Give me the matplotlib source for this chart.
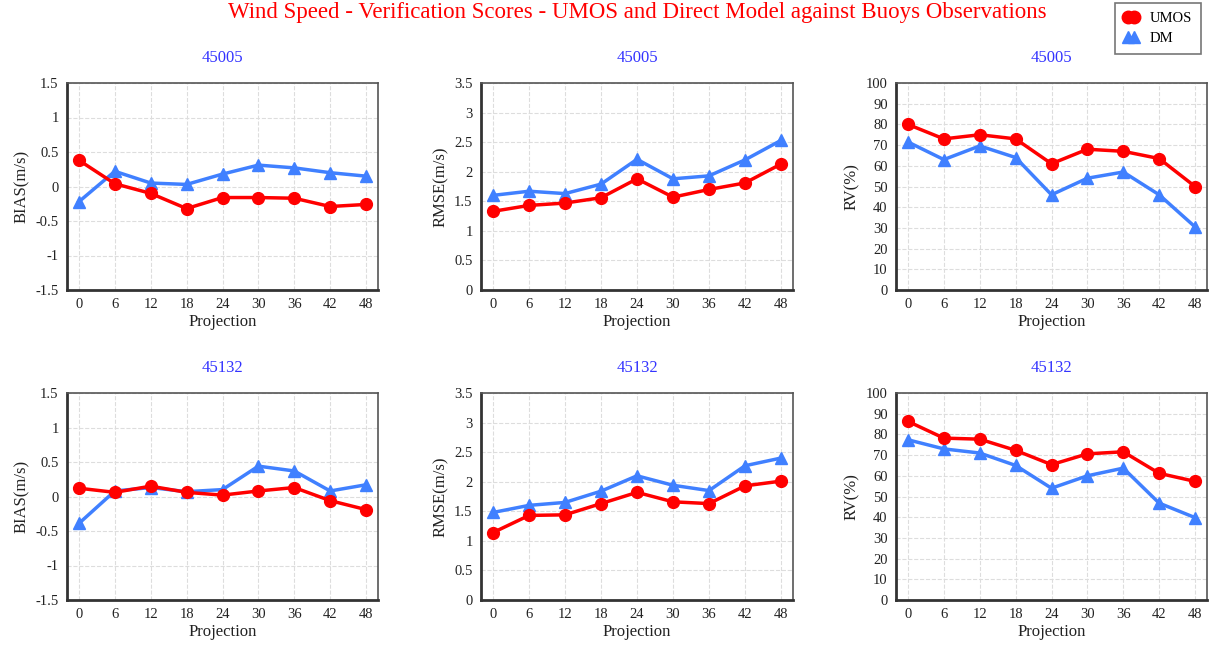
import matplotlib
matplotlib.use('Agg')
import matplotlib.pyplot as plt
from matplotlib.lines import Line2D

plt.rcParams['font.family'] = ['Liberation Serif', 'DejaVu Serif']

# projection hours
proj = [0, 6, 12, 18, 24, 30, 36, 42, 48]

# station 45005
bias_umos_45005 = [0.38, 0.04, -0.10, -0.32, -0.16, -0.16, -0.17, -0.29, -0.26]
bias_dm_45005 = [-0.22, 0.22, 0.05, 0.03, 0.18, 0.31, 0.27, 0.20, 0.15]
rmse_umos_45005 = [1.33, 1.43, 1.47, 1.56, 1.88, 1.57, 1.70, 1.81, 2.13]
rmse_dm_45005 = [1.60, 1.67, 1.63, 1.79, 2.21, 1.88, 1.93, 2.20, 2.53]
rv_umos_45005 = [80, 73, 75, 73, 61, 68, 67, 63.5, 50]
rv_dm_45005 = [71.5, 63, 69.6, 64, 46, 54, 57, 46, 30.5]

# station 45132
bias_umos_45132 = [0.12, 0.06, 0.15, 0.06, 0.02, 0.08, 0.13, -0.06, -0.19]
bias_dm_45132 = [-0.39, 0.08, 0.13, 0.07, 0.10, 0.44, 0.37, 0.08, 0.17]
rmse_umos_45132 = [1.14, 1.43, 1.44, 1.63, 1.82, 1.66, 1.63, 1.93, 2.01]
rmse_dm_45132 = [1.48, 1.60, 1.65, 1.84, 2.10, 1.94, 1.85, 2.27, 2.40]
rv_umos_45132 = [86.3, 78.2, 77.7, 72.3, 65.4, 70.6, 71.6, 61.2, 57.3]
rv_dm_45132 = [77.4, 73, 71, 65, 54, 60, 63.7, 46.8, 39.8]

red = '#ff0000'
blue = '#4080ff'

fig = plt.figure(figsize=(12.14, 6.5), dpi=100)
fig.text(0.525, 1 - 2 / 650, 'Wind Speed - Verification Scores - UMOS and Direct Model against Buoys Observations',
         color=red, fontsize=16.5, ha='center', va='top')

lefts = [67, 481, 896]
widths = [311, 312, 311]
tops = [83, 393]
panels = [
    [('45005', 'BIAS(m/s)', bias_umos_45005, bias_dm_45005, (-1.5, 1.5), [-1.5, -1, -0.5, 0, 0.5, 1, 1.5]),
     ('45005', 'RMSE(m/s)', rmse_umos_45005, rmse_dm_45005, (0, 3.5), [0, 0.5, 1, 1.5, 2, 2.5, 3, 3.5]),
     ('45005', 'RV(%)', rv_umos_45005, rv_dm_45005, (0, 100), list(range(0, 101, 10)))],
    [('45132', 'BIAS(m/s)', bias_umos_45132, bias_dm_45132, (-1.5, 1.5), [-1.5, -1, -0.5, 0, 0.5, 1, 1.5]),
     ('45132', 'RMSE(m/s)', rmse_umos_45132, rmse_dm_45132, (0, 3.5), [0, 0.5, 1, 1.5, 2, 2.5, 3, 3.5]),
     ('45132', 'RV(%)', rv_umos_45132, rv_dm_45132, (0, 100), list(range(0, 101, 10)))],
]

def fmt(v):
    return ('%g' % v)

for r, row in enumerate(panels):
    for c, (st, ylab, um, dm, ylim, yticks) in enumerate(row):
        ax = fig.add_axes([lefts[c] / 1214, 1 - (tops[r] + 207) / 650, widths[c] / 1214, 207 / 650])
        ax.plot(proj, dm, color=blue, lw=2.5, marker='^', ms=8.5, zorder=3)
        ax.plot(proj, um, color=red, lw=2.5, marker='o', ms=8.5, zorder=4)
        ax.set_xlim(-2, 50)
        ax.set_ylim(*ylim)
        ax.set_xticks(proj)
        ax.set_yticks(yticks)
        ax.set_yticklabels([fmt(v) for v in yticks])
        ax.tick_params(length=0, labelsize=10.5, pad=6, colors='#222222')
        ax.grid(True, color='#dddddd', ls='--', lw=0.8)
        ax.set_axisbelow(True)
        for s in ['left', 'bottom']:
            ax.spines[s].set_linewidth(2)
            ax.spines[s].set_color('#333333')
        for s in ['top', 'right']:
            ax.spines[s].set_linewidth(1.2)
            ax.spines[s].set_color('#555555')
        ax.set_xlabel('Projection', fontsize=12, labelpad=2, color='#222222')
        ax.set_ylabel(ylab, fontsize=12, labelpad=4, color='#222222')
        ax.set_title(st, color='#3333ff', fontsize=12, pad=15)

handles = [Line2D([], [], color=red, marker='o', ms=9, lw=2),
           Line2D([], [], color=blue, marker='^', ms=9, lw=2)]
leg = fig.legend(handles, ['UMOS', 'DM'], loc='upper left',
                 bbox_to_anchor=(1115 / 1214, 1 - 3 / 650), fontsize=10.5,
                 numpoints=2, handlelength=1.0, frameon=True, fancybox=False,
                 borderpad=0.6, labelspacing=0.5, handletextpad=0.8, borderaxespad=0)
leg.get_frame().set_edgecolor('#555555')
leg.get_frame().set_linewidth(1.2)

fig.savefig('out.png', dpi=100)
